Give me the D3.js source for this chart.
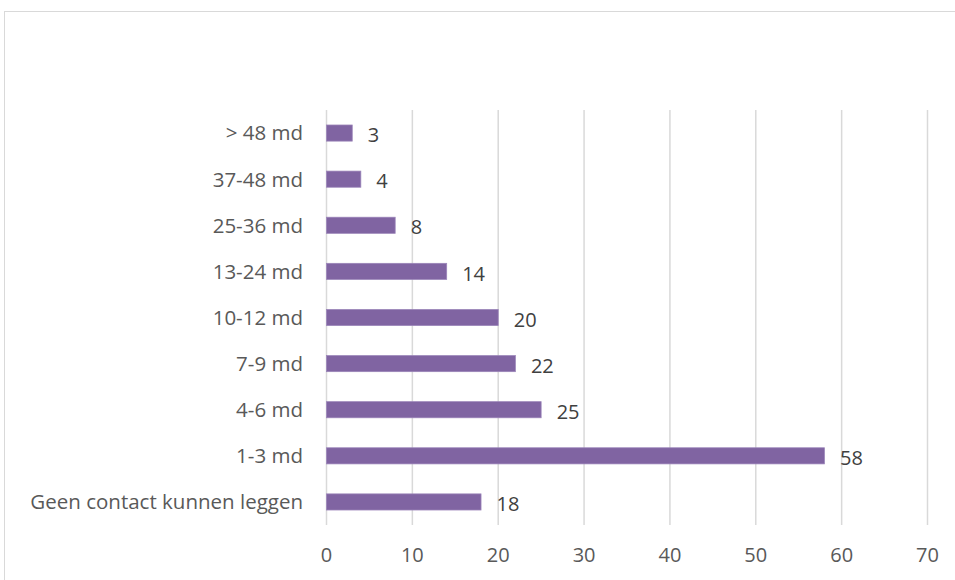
<!DOCTYPE html>
<html>
<head>
<meta charset="utf-8">
<script src="https://cdn.jsdelivr.net/npm/d3@7"></script>
<style>
  html, body { margin: 0; padding: 0; background: #fff; }
  svg { display: block; font-family: "Open Sans", Lato, sans-serif; }
</style>
</head>
<body>
<svg id="chart" width="955" height="580"></svg>
<script>
// Categories listed bottom to top, as they appear on the chart
const categories = ["Geen contact kunnen leggen", "1-3 md", "4-6 md", "7-9 md", "10-12 md", "13-24 md", "25-36 md", "37-48 md", "> 48 md"];
const values = [18, 58, 25, 22, 20, 14, 8, 4, 3];
const xTicks = [0, 10, 20, 30, 40, 50, 60, 70];

const FONT = "'Open Sans', Lato, sans-serif";

const svg = d3.select("#chart");

// Chart frame
svg.append("rect")
  .attr("x", 4.5).attr("y", 11.5)
  .attr("width", 1000).attr("height", 620)
  .attr("fill", "#fff")
  .attr("stroke", "#d9d9d9");

const x = d3.scaleLinear().domain([0, 70]).range([326, 927]);
const y = d3.scaleBand()
  .domain(categories.slice().reverse())
  .range([110, 525])
  .paddingInner(0.65)
  .paddingOuter(0.325);

// Vertical gridlines
svg.append("g")
  .selectAll("line")
  .data(xTicks)
  .join("line")
  .attr("x1", d => x(d) + 0.5).attr("x2", d => x(d) + 0.5)
  .attr("y1", 110).attr("y2", 525)
  .attr("stroke", "#d9d9d9")
  .attr("stroke-width", 1.5);

// X axis labels
const xAxis = d3.axisBottom(x).tickValues(xTicks).tickSize(0).tickPadding(0);
const gx = svg.append("g").attr("transform", "translate(0,548)").call(xAxis);
gx.select(".domain").remove();
gx.selectAll("text")
  .attr("font-size", 20)
  .attr("font-family", FONT)
  .attr("fill", "#595959");

// Category labels
const yAxis = d3.axisLeft(y).tickSize(0).tickPadding(0);
const gy = svg.append("g").attr("transform", "translate(303,0)").call(yAxis);
gy.select(".domain").remove();
gy.selectAll("text")
  .attr("font-size", 20.5)
  .attr("font-family", FONT)
  .attr("dy", "0.36em")
  .attr("fill", "#595959");

// Bars
svg.append("g")
  .selectAll("rect")
  .data(categories)
  .join("rect")
  .attr("x", x(0) + 0.5)
  .attr("y", d => y(d))
  .attr("width", (d, i) => x(values[i]) - x(0))
  .attr("height", y.bandwidth())
  .attr("fill", "#8064a2")
  .attr("stroke", "#9b85b9")
  .attr("stroke-width", 0.75);

// Value labels
svg.append("g")
  .selectAll("text")
  .data(categories)
  .join("text")
  .attr("x", (d, i) => x(values[i]) + 16)
  .attr("y", d => y(d) + y.bandwidth() / 2 + 2)
  .attr("dy", "0.36em")
  .attr("font-size", 20)
  .attr("font-family", FONT)
  .attr("fill", "#404040")
  .text((d, i) => values[i]);
</script>
</body>
</html>
